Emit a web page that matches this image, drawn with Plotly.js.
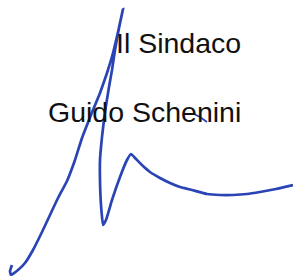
<!DOCTYPE html>
<html><head><meta charset="utf-8">
<script src="https://cdn.plot.ly/plotly-3.0.1.min.js"></script>
<style>html,body{margin:0;padding:0;background:#fff}#c{width:293px;height:276px}</style>
</head><body><div id="c"></div>
<script>
const lines = ["Il Sindaco", "Guido Schenini"];
const lineX = [243, 243];
const lineY = [43, 112];
const sigX = [12,10,11,18,25,33,42,50,58,67,75,82,91,100,107,113,118,123,119,115,112,109,105,102,100,100,101,103,106,112,120,127,131,136,143,150,160,170,180,192,207,220,233,247,260,276,293];
const sigY = [265,271,275,270,263,250,232,215,198,181,160,138,115,93,73,53,32,9,28,50,70,87,112,137,160,181,205,225,220,200,177,160,154,159,166,172,178,183,187,190,194,195,195,194,192,189,185];
const markX = [194,200,207];
const markY = [114,117,122];
const ink = "#2a43b5";
const data = [
  {x: sigX, y: sigY, mode: "lines", line: {color: ink, width: 2.7, shape: "spline", smoothing: 0.35}, hoverinfo: "skip"},
  {x: markX, y: markY, mode: "lines", line: {color: ink, width: 1.8}, hoverinfo: "skip"}
];
const layout = {
  width: 293, height: 276,
  margin: {l: 0, r: 0, t: 0, b: 0},
  paper_bgcolor: "#fff", plot_bgcolor: "#fff",
  showlegend: false,
  xaxis: {range: [0, 293], visible: false, fixedrange: true},
  yaxis: {range: [276, 0], visible: false, fixedrange: true},
  annotations: lines.map((t, i) => ({
    text: t, x: lineX[i], y: lineY[i], xref: "x", yref: "y",
    xanchor: "right", yanchor: "middle", showarrow: false,
    font: {family: "Liberation Sans, Arial, sans-serif", size: 28.5, color: "#111"}
  }))
};
Plotly.newPlot("c", data, layout, {staticPlot: true, displayModeBar: false});
</script></body></html>
